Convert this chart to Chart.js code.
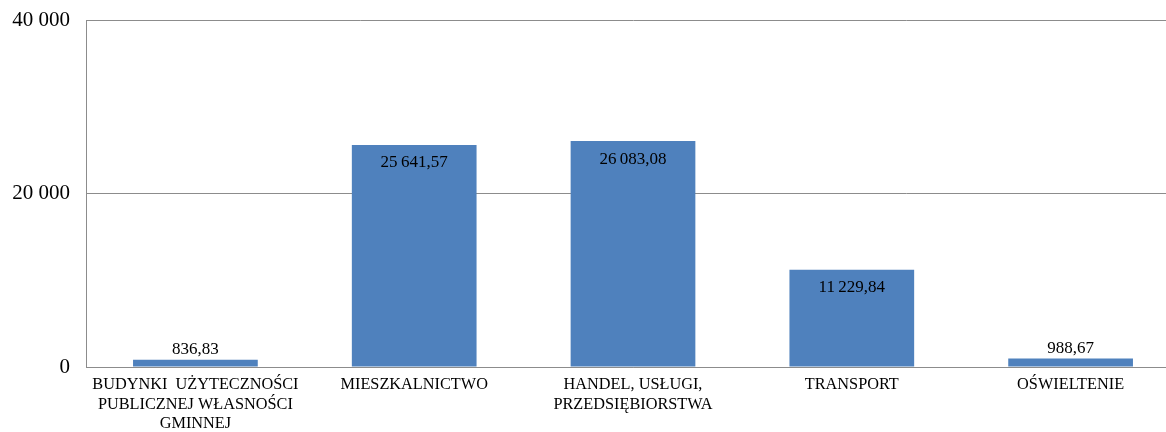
<!DOCTYPE html>
<html><head><meta charset="utf-8">
<script src="https://cdn.jsdelivr.net/npm/chart.js@4"></script>
<style>
html,body{margin:0;padding:0;background:#fff;overflow:hidden;}
#wrap{width:1180px;height:440px;position:absolute;left:0;top:-8px;}
</style></head>
<body><div id="wrap"><canvas id="c"></canvas></div>
<script>
const categories = [
  ["BUDYNKI  UŻYTECZNOŚCI", "PUBLICZNEJ WŁASNOŚCI", "GMINNEJ"],
  ["MIESZKALNICTWO"],
  ["HANDEL, USŁUGI,", "PRZEDSIĘBIORSTWA"],
  ["TRANSPORT"],
  ["OŚWIELTENIE"]
];
const values = [836.83, 25641.57, 26083.08, 11229.84, 988.67];
const yTicks = [0, 20000, 40000];

function fmtNum(v, dec, sep) {
  const parts = v.toFixed(dec).split('.');
  const int = parts[0].replace(/\B(?=(\d{3})+(?!\d))/g, sep);
  return dec ? int + ',' + parts[1] : int;
}

const labelPlugin = {
  id: 'valLabels',
  afterDatasetsDraw(chart) {
    const ctx = chart.ctx;
    const meta = chart.getDatasetMeta(0);
    ctx.save();
    ctx.font = '17px "Liberation Serif", "Times New Roman", serif';
    ctx.fillStyle = '#000';
    ctx.textAlign = 'center';
    ctx.textBaseline = 'middle';
    meta.data.forEach((bar, i) => {
      const v = values[i];
      const h = bar.base - bar.y;
      const y = h > 40 ? bar.y + 18 : bar.y - 10;
      ctx.fillText(fmtNum(v, 2, '\u2009'), bar.x, y);
    });
    ctx.restore();
  }
};

new Chart(document.getElementById('c'), {
  type: 'bar',
  data: {
    labels: categories,
    datasets: [{
      data: values,
      backgroundColor: '#4F81BD',
      borderWidth: 0,
      barPercentage: 0.57,
      categoryPercentage: 1.0
    }]
  },
  options: {
    responsive: true,
    maintainAspectRatio: false,
    animation: false,
    layout: { padding: { top: 12, left: 0, right: 0, bottom: 0 } },
    plugins: { legend: { display: false }, tooltip: { enabled: false } },
    scales: {
      x: {
        grid: { display: false, drawTicks: false },
        border: { display: true, color: '#8c8c8c', width: 1 },
        ticks: {
          color: '#000',
          font: { family: '"Liberation Serif", "Times New Roman", serif', size: 16.3, lineHeight: 1.2 },
          padding: 8,
          maxRotation: 0,
          autoSkip: false
        },
        afterFit(s) { s.height = 65; }
      },
      y: {
        min: 0, max: 40000,
        afterBuildTicks(s) { s.ticks = yTicks.map(v => ({ value: v })); },
        grid: { color: '#8c8c8c', drawTicks: false, lineWidth: 1 },
        border: { display: true, color: '#8c8c8c', width: 1 },
        ticks: {
          color: '#000',
          font: { family: '"Liberation Serif", "Times New Roman", serif', size: 21 },
          padding: 16,
          callback: v => fmtNum(v, 0, ' ')
        },
        afterFit(s) { s.width = 86; }
      }
    }
  },
  plugins: [labelPlugin]
});
</script></body></html>
